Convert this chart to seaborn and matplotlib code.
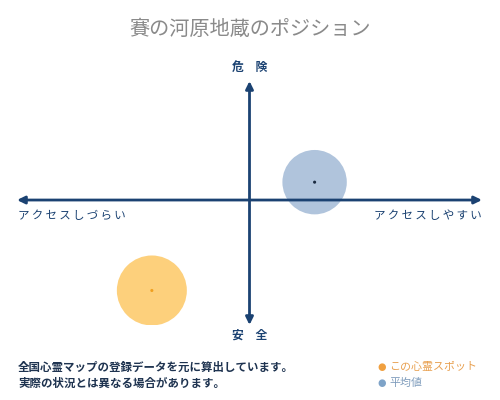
import matplotlib
matplotlib.use("Agg")
import matplotlib.pyplot as plt
import seaborn as sns
import pandas as pd

sns.set_style("white")
plt.rcParams["font.family"] = ["Noto Sans CJK JP", "DejaVu Sans"]

# data (x: access difficulty -> ease, y: safe -> danger)
labels = ["この心霊スポット", "平均値"]
x_vals = [-0.42, 0.28]
y_vals = [-0.76, 0.15]
fill_colors = ["#fdd07c", "#b0c4dc"]
dot_colors = ["#f0a020", "#1a2a40"]
sizes = [2540, 2150]

title = "賽の河原地蔵のポジション"
top_label = "危\u3000険"
bottom_label = "安\u3000全"
left_label = "アクセスしづらい"
right_label = "アクセスしやすい"
note_lines = ["全国心霊マップの登録データを元に算出しています。",
              "実際の状況とは異なる場合があります。"]

navy = "#1b4272"

df = pd.DataFrame({"x": x_vals, "y": y_vals, "label": labels})

fig = plt.figure(figsize=(5, 4), dpi=100)
ax = fig.add_axes([17 / 500, 75 / 400, 465 / 500, 244 / 400])
ax.set_xlim(-1, 1)
ax.set_ylim(-1.05, 1)
ax.axis("off")

# big circles
for i, row in df.iterrows():
    sns.scatterplot(x=[row["x"]], y=[row["y"]], s=sizes[i], color=fill_colors[i],
                    edgecolor="none", ax=ax, zorder=2, legend=False)
    sns.scatterplot(x=[row["x"]], y=[row["y"]], s=5, color=dot_colors[i],
                    edgecolor="none", ax=ax, zorder=4, legend=False)

# axis arrows
arrow = dict(arrowstyle="<|-|>,head_length=0.45,head_width=0.22", color=navy,
             lw=2, shrinkA=0, shrinkB=0)
ax.annotate("", xy=(0, 0), xytext=(1, 0), xycoords=("axes fraction", "data"),
            textcoords=("axes fraction", "data"), arrowprops=arrow, zorder=3)
ax.annotate("", xy=(0, 0), xytext=(0, 1), xycoords=("data", "axes fraction"),
            textcoords=("data", "axes fraction"), arrowprops=arrow, zorder=3)

def spaced(s):
    return "\u2009".join(s)

fig.text(0.5, 1 - 29 / 400, title, ha="center", va="center", fontsize=14.5,
         color="#8a8a8a")
fig.text(0.5, 1 - 67 / 400, top_label, ha="center", va="center", fontsize=8.5,
         fontweight="bold", color=navy)
fig.text(0.5, 1 - 335 / 400, bottom_label, ha="center", va="center", fontsize=8.5,
         fontweight="bold", color=navy)
fig.text(18 / 500, 1 - 216 / 400, spaced(left_label), ha="left", va="center",
         fontsize=8.3, color=navy)
fig.text(482 / 500, 1 - 216 / 400, spaced(right_label), ha="right", va="center",
         fontsize=8.3, color=navy)

for j, line in enumerate(note_lines):
    fig.text(18 / 500, 1 - (367 + 16 * j) / 400, line, ha="left", va="center",
             fontsize=8.25, fontweight="bold", color="#1e3350")

# legend
legend_text_colors = ["#e8a050", "#7e9cbc"]
legend_dot_colors = ["#f0a040", "#7ea3c8"]
for j, lab in enumerate(labels):
    yy = 1 - (367 + 16 * j) / 400
    fig.text(382 / 500, yy, "●", ha="center", va="center", fontsize=7,
             color=legend_dot_colors[j], family=["DejaVu Sans"])
    fig.text(389 / 500, yy, lab, ha="left", va="center", fontsize=7.9,
             color=legend_text_colors[j])

fig.savefig("out.png", dpi=100)
